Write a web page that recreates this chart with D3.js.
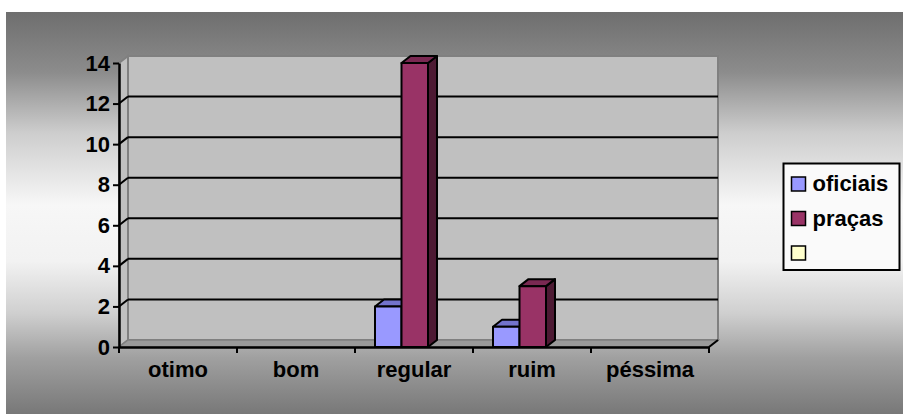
<!DOCTYPE html>
<html>
<head>
<meta charset="utf-8">
<script src="https://cdn.jsdelivr.net/npm/d3@7"></script>
<style>
  body { margin: 0; background: #fff; }
  text { font-family: Arial, "Liberation Sans", sans-serif; font-weight: bold; }
</style>
</head>
<body>
<svg id="chart" width="905" height="414"></svg>
<script>
// chart data
var categories = ["otimo", "bom", "regular", "ruim", "péssima"];
var seriesNames = ["oficiais", "praças", ""];
var oficiais = [0, 0, 2, 1, 0];
var pracas = [0, 0, 14, 3, 0];
var yTicks = [0, 2, 4, 6, 8, 10, 12, 14];

var fontSize = 22;
var svg = d3.select("#chart");

// background gradient (dark top/bottom, light middle)
var defs = svg.append("defs");
var grad = defs.append("linearGradient")
    .attr("id", "bg").attr("x1", 0).attr("y1", 0).attr("x2", 0).attr("y2", 1);
grad.append("stop").attr("offset", "0%").attr("stop-color", "#6e6e6e");
grad.append("stop").attr("offset", "15%").attr("stop-color", "#8c8c8c");
grad.append("stop").attr("offset", "30%").attr("stop-color", "#cdcdcd");
grad.append("stop").attr("offset", "48%").attr("stop-color", "#f7f7f7");
grad.append("stop").attr("offset", "62%").attr("stop-color", "#f2f2f2");
grad.append("stop").attr("offset", "75%").attr("stop-color", "#cfcfcf");
grad.append("stop").attr("offset", "86%").attr("stop-color", "#a0a0a0");
grad.append("stop").attr("offset", "100%").attr("stop-color", "#787878");

svg.append("rect")
    .attr("x", 6).attr("y", 12).attr("width", 897).attr("height", 402)
    .attr("fill", "url(#bg)");

// scales
var x = d3.scaleBand().domain(categories).range([119, 709]).paddingInner(0).paddingOuter(0);
var y = d3.scaleLinear().domain([0, 14]).range([347, 63]);
var inner = d3.scaleBand().domain(["oficiais", "praças"]).range([20, 73]);

// 3d depth offset
var dx = 9, dy = -7;

var x0 = x.range()[0], x1 = x.range()[1];
var yb = y(0), yt = y(14);

// back wall
svg.append("rect")
    .attr("x", x0 + dx).attr("y", yt + dy)
    .attr("width", x1 - x0).attr("height", yb - yt)
    .attr("fill", "#c0c0c0").attr("stroke", "#808080").attr("stroke-width", 2);

// side wall
svg.append("polygon")
    .attr("points", [[x0, yt], [x0 + dx, yt + dy], [x0 + dx, yb + dy], [x0, yb]].join(" "))
    .attr("fill", "#c0c0c0").attr("stroke", "#808080").attr("stroke-width", 2);

// floor
svg.append("polygon")
    .attr("points", [[x0, yb], [x0 + dx, yb + dy], [x1 + dx, yb + dy], [x1, yb]].join(" "))
    .attr("fill", "#9a9a9a").attr("stroke", "#808080").attr("stroke-width", 1.5);

// gridlines on back wall and side wall
var gridVals = yTicks.filter(function (d) { return d > 0 && d < 14; });
svg.append("g").selectAll("line")
    .data(gridVals).enter().append("line")
    .attr("x1", x0 + dx).attr("x2", x1 + dx)
    .attr("y1", function (d) { return y(d) + dy; })
    .attr("y2", function (d) { return y(d) + dy; })
    .attr("stroke", "#000").attr("stroke-width", 2);
svg.append("g").selectAll("line")
    .data(gridVals).enter().append("line")
    .attr("x1", x0).attr("x2", x0 + dx)
    .attr("y1", function (d) { return y(d); })
    .attr("y2", function (d) { return y(d) + dy; })
    .attr("stroke", "#000").attr("stroke-width", 2);

// bars
var series = [
    { name: "oficiais", values: oficiais, front: "#9999ff", top: "#7373cc", side: "#5c5ca3" },
    { name: "praças", values: pracas, front: "#993366", top: "#7a2952", side: "#4d1a33" }
];
var bars = [];
series.forEach(function (s) {
    s.values.forEach(function (v, i) {
        if (v > 0) bars.push({ s: s, cat: categories[i], v: v });
    });
});
var bw = inner.bandwidth();
var barG = svg.append("g")
    .attr("stroke", "#000").attr("stroke-width", 2).attr("stroke-linejoin", "round");
bars.forEach(function (b) {
    var bx = x(b.cat) + inner(b.s.name);
    var by = y(b.v);
    // side face
    barG.append("polygon")
        .attr("points", [[bx + bw, by], [bx + bw + dx, by + dy], [bx + bw + dx, yb + dy], [bx + bw, yb]].join(" "))
        .attr("fill", b.s.side);
    // top face
    barG.append("polygon")
        .attr("points", [[bx, by], [bx + dx, by + dy], [bx + bw + dx, by + dy], [bx + bw, by]].join(" "))
        .attr("fill", b.s.top);
    // front face
    barG.append("rect")
        .attr("x", bx).attr("y", by).attr("width", bw).attr("height", yb - by)
        .attr("fill", b.s.front);
});

// y axis
var yAxis = svg.append("g")
    .attr("transform", "translate(" + x0 + ",0)")
    .call(d3.axisLeft(y).tickValues(yTicks).tickSize(6).tickPadding(3).tickSizeOuter(0));
yAxis.select(".domain").attr("stroke", "#000").attr("stroke-width", 2.5);
yAxis.selectAll(".tick line").attr("stroke", "#000").attr("stroke-width", 2);
yAxis.selectAll(".tick text")
    .attr("font-size", fontSize).attr("fill", "#000")
    .style("font-family", "Arial, 'Liberation Sans', sans-serif").style("font-weight", "bold");

// x axis
var xAxis = svg.append("g")
    .attr("transform", "translate(0," + yb + ")")
    .call(d3.axisBottom(x).tickSize(0).tickPadding(14).tickSizeOuter(0));
xAxis.select(".domain").attr("stroke", "#000").attr("stroke-width", 2.5);
xAxis.selectAll(".tick text")
    .attr("font-size", fontSize).attr("fill", "#000")
    .style("font-family", "Arial, 'Liberation Sans', sans-serif").style("font-weight", "bold");

// tick marks on category boundaries
var bounds = categories.map(function (c) { return x(c); }).concat([x1]);
svg.append("g").selectAll("line")
    .data(bounds).enter().append("line")
    .attr("x1", function (d) { return d; }).attr("x2", function (d) { return d; })
    .attr("y1", yb).attr("y2", yb + 6)
    .attr("stroke", "#000").attr("stroke-width", 2);

// right floor edge
svg.append("line")
    .attr("x1", x1).attr("y1", yb).attr("x2", x1 + dx).attr("y2", yb + dy)
    .attr("stroke", "#000").attr("stroke-width", 2);

// legend
var legendColors = ["#9999ff", "#993366", "#ffffcc"];
var legend = svg.append("g").attr("transform", "translate(783.5,163.5)");
legend.append("rect")
    .attr("width", 116).attr("height", 106.5)
    .attr("fill", "#fafafa").attr("stroke", "#000").attr("stroke-width", 2);
var item = legend.selectAll(".item")
    .data(seriesNames).enter().append("g")
    .attr("transform", function (d, i) { return "translate(0," + (i * 34.5) + ")"; });
item.append("rect")
    .attr("x", 8).attr("y", 13.5).attr("width", 14).attr("height", 14)
    .attr("fill", function (d, i) { return legendColors[i]; })
    .attr("stroke", "#000").attr("stroke-width", 1.5);
item.append("text")
    .attr("x", 29).attr("y", 27.5)
    .attr("font-size", fontSize).attr("fill", "#000")
    .text(function (d) { return d; });
</script>
</body>
</html>
